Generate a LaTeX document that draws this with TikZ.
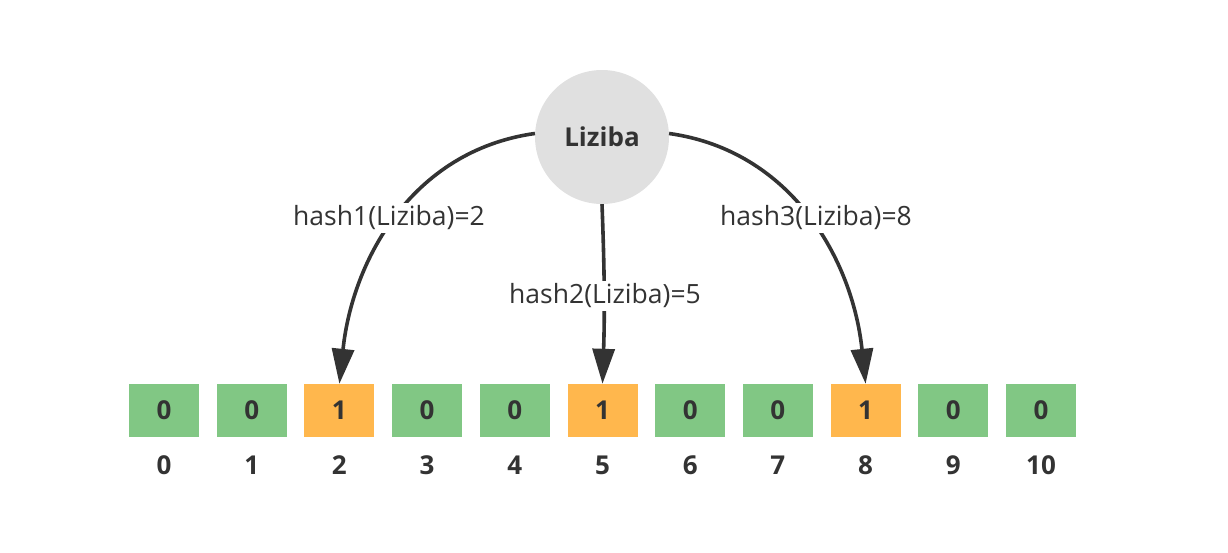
\documentclass[tikz,border=0pt]{standalone}
\usepackage{fontspec}
\setmainfont{Open Sans}
\usetikzlibrary{arrows.meta}
\definecolor{bitgreen}{HTML}{81C784}
\definecolor{bitorange}{HTML}{FFB74D}
\definecolor{keygray}{HTML}{E0E0E0}
\definecolor{ink}{HTML}{333333}
\tikzset{every node/.style={text=ink, inner sep=0pt},
  cell/.style={minimum width=70pt, minimum height=53pt, font=\fontsize{26}{31}\selectfont\bfseries},
  bit0/.style={cell, fill=bitgreen},
  bit1/.style={cell, fill=bitorange},
  index/.style={font=\fontsize{26}{31}\selectfont\bfseries},
  hashlabel/.style={fill=white, inner sep=3pt, font=\fontsize{26.5}{32}\selectfont},
  hasharrow/.style={draw=ink, line width=3.6pt, -{Triangle[length=35pt,width=22pt]}}}

\begin{document}
\begin{tikzpicture}[x=1pt,y=1pt]
  \useasboundingbox (0,0) rectangle (1228,552);
  \node[circle, fill=keygray, minimum size=134pt, font=\fontsize{26}{31}\selectfont\bfseries] (liziba) at (602,415) {Liziba};
  \foreach \v [count=\i from 0] in {0,0,1,0,0,1,0,0,1,0,0} {
    \node[bit\v] (c\i) at ({164+87.7*\i},141.5) {\v};
    \node[index] (i\i) at ({164+87.7*\i},87) {\i};
  }
  \draw[hasharrow] (liziba.177) to[out=188,in=84] (c2.north);
  \draw[hasharrow] (liziba.south) to[bend left=2] (c5.north);
  \draw[hasharrow] (liziba.3) to[out=-8,in=96] (c8.north);
  \node[hashlabel] (h1) at (389,334) {hash1(Liziba)=2};
  \node[hashlabel] (h2) at (605,256) {hash2(Liziba)=5};
  \node[hashlabel] (h3) at (816,334) {hash3(Liziba)=8};
\end{tikzpicture}
\end{document}
